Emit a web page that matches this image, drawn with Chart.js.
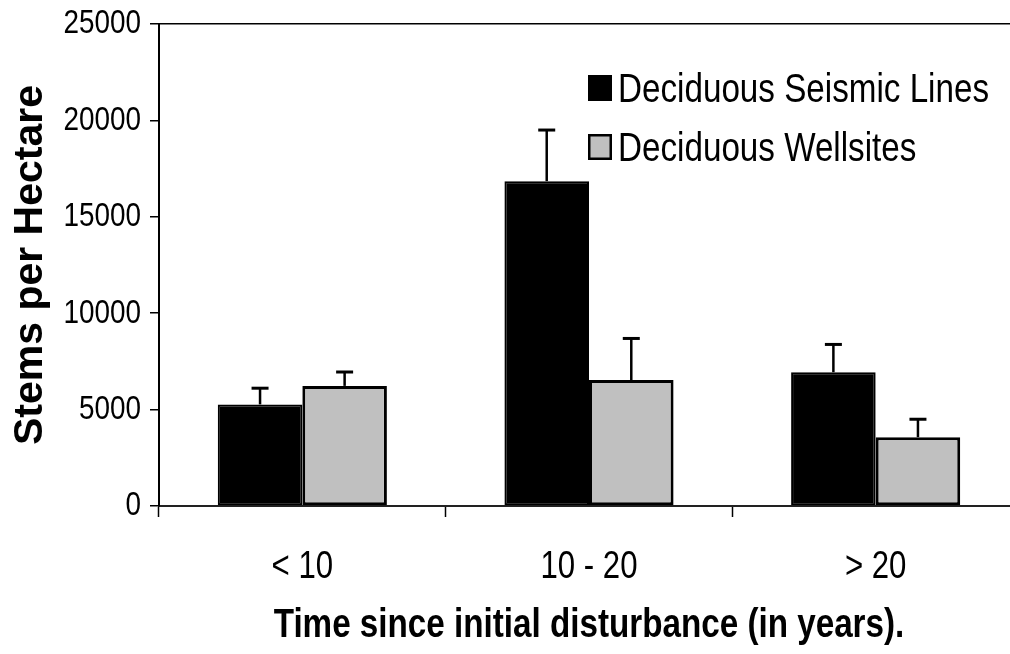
<!DOCTYPE html>
<html>
<head>
<meta charset="utf-8">
<script src="https://cdn.jsdelivr.net/npm/chart.js@4/dist/chart.umd.min.js"></script>
<style>
  html, body { margin: 0; padding: 0; background: #fff; overflow: hidden; }
  #wrap { position: relative; width: 1030px; height: 654px; }
</style>
</head>
<body>
<div id="wrap"><canvas id="chart"></canvas></div>
<script>
// Stem density by time since disturbance
const categories = ['< 10', '10 - 20', '> 20'];
const seriesNames = ['Deciduous Seismic Lines', 'Deciduous Wellsites'];
const seismicMean = [5270, 16850, 6940];
const seismicErr = [840, 2650, 1440];
const wellsiteMean = [6230, 6530, 3570];
const wellsiteErr = [720, 2160, 930];
const yTickStep = 5000;
const yMax = 25000;

const SANS = "'Liberation Sans', Arial, sans-serif";
// narrow lettering: regular face squeezed horizontally
const NARROW_X = 0.82;

function squeezeText(Base, id) {
  return class extends Base {
    static id = id;
    static defaults = Base.defaults;
    drawLabels(chartArea) {
      const sx = this.options.textScaleX || 1;
      const ctx = this.ctx;
      if (!this.options.ticks.display) return;
      for (const item of this.getLabelItems(chartArea)) {
        const o = item.options;
        const [tx, ty] = o.translation;
        ctx.save();
        ctx.translate(tx, ty);
        ctx.scale(sx, 1);
        Chart.helpers.renderText(ctx, item.label, 0, item.textOffset, item.font,
          Object.assign({}, o, { translation: undefined }));
        ctx.restore();
      }
    }
    drawTitle() {
      const sx = this.options.titleScaleX || 1;
      const ctx = this.ctx;
      ctx.save();
      if (this.isHorizontal()) {
        const cx = (this.left + this.right) / 2;
        ctx.translate(cx, 0); ctx.scale(sx, 1); ctx.translate(-cx, 0);
      }
      super.drawTitle();
      ctx.restore();
    }
  };
}
const NarrowCategory = squeezeText(Chart.CategoryScale, 'narrowCategory');
const NarrowLinear = squeezeText(Chart.LinearScale, 'narrowLinear');
Chart.register(NarrowCategory, NarrowLinear);

// upward-only error bars with a flat cap
const errorBars = {
  id: 'errorBars',
  afterDatasetsDraw(chart) {
    const { ctx } = chart;
    const y = chart.scales.y;
    chart.data.datasets.forEach((ds, di) => {
      const meta = chart.getDatasetMeta(di);
      meta.data.forEach((bar, i) => {
        const top = y.getPixelForValue(ds.data[i] + ds.errorPlus[i]);
        ctx.save();
        ctx.strokeStyle = '#000';
        ctx.lineWidth = 2.5;
        ctx.beginPath();
        ctx.moveTo(bar.x, bar.y);
        ctx.lineTo(bar.x, top);
        ctx.stroke();
        ctx.lineWidth = 3;
        ctx.beginPath();
        ctx.moveTo(bar.x - 8.5, top);
        ctx.lineTo(bar.x + 8.5, top);
        ctx.stroke();
        ctx.restore();
      });
    });
  }
};

// stacked legend inside the plot, upper right
const boxLegend = {
  id: 'boxLegend',
  afterDraw(chart, args, opts) {
    const { ctx } = chart;
    ctx.save();
    ctx.font = opts.font;
    ctx.textBaseline = 'alphabetic';
    ctx.textAlign = 'left';
    chart.data.datasets.forEach((ds, i) => {
      const rowY = opts.top + i * opts.rowGap;
      ctx.fillStyle = ds.backgroundColor;
      ctx.fillRect(opts.left, rowY, opts.box, opts.boxH);
      ctx.strokeStyle = '#000';
      ctx.lineWidth = 2.5;
      ctx.strokeRect(opts.left + 1.25, rowY + 1.25, opts.box - 2.5, opts.boxH - 2.5);
      ctx.save();
      ctx.translate(opts.left + opts.box + 6, rowY + opts.boxH + 1);
      ctx.scale(opts.scaleX, 1);
      ctx.fillStyle = '#000';
      ctx.fillText(ds.label, 0, 0);
      ctx.restore();
    });
    ctx.restore();
  }
};

new Chart(document.getElementById('chart'), {
  type: 'bar',
  data: {
    labels: categories,
    datasets: [
      {
        label: seriesNames[0],
        data: seismicMean,
        errorPlus: seismicErr,
        backgroundColor: '#000000',
        borderColor: '#000000',
        borderWidth: 2,
        borderSkipped: false
      },
      {
        label: seriesNames[1],
        data: wellsiteMean,
        errorPlus: wellsiteErr,
        backgroundColor: '#c0c0c0',
        borderColor: '#000000',
        borderWidth: 3,
        borderSkipped: false
      }
    ]
  },
  options: {
    responsive: true,
    maintainAspectRatio: false,
    animation: false,
    events: [],
    layout: { padding: { left: 0, right: 11, top: 24, bottom: 0 } },
    datasets: { bar: { categoryPercentage: 0.59, barPercentage: 1.0 } },
    plugins: {
      legend: { display: false },
      tooltip: { enabled: false },
      boxLegend: {
        left: 588, top: 75, rowGap: 59, box: 24, boxH: 26,
        scaleX: NARROW_X,
        font: '40.5px ' + SANS
      }
    },
    scales: {
      x: {
        type: 'narrowCategory',
        textScaleX: NARROW_X,
        titleScaleX: NARROW_X,
        afterFit(scale) { scale.height = 148; },
        grid: {
          offset: true,
          drawOnChartArea: false,
          tickLength: 11,
          tickColor: '#000',
          tickWidth: 1.5
        },
        border: { color: '#222', width: 2 },
        ticks: {
          color: '#000',
          padding: 28,
          font: { family: SANS, size: 38 }
        },
        title: {
          display: true,
          text: 'Time since initial disturbance (in years).',
          color: '#000',
          font: { family: SANS, size: 40.5, weight: 'bold' },
          padding: { top: 0, bottom: 4 }
        }
      },
      y: {
        type: 'narrowLinear',
        textScaleX: NARROW_X,
        min: 0,
        max: yMax,
        afterFit(scale) {
          scale.width = 159;
          scale.paddingTop = 0;
          scale.paddingBottom = 0;
        },
        grid: {
          color: (c) => (c.tick && c.tick.value === yMax ? '#000' : 'rgba(0,0,0,0)'),
          lineWidth: 1.5,
          tickLength: 9,
          tickColor: '#000',
          tickWidth: 1.5
        },
        border: { color: '#000', width: 2 },
        ticks: {
          color: '#000',
          padding: 9,
          stepSize: yTickStep,
          callback: (v) => String(v),
          font: { family: SANS, size: 34 }
        },
        title: {
          display: true,
          text: 'Stems per Hectare',
          color: '#000',
          font: { family: SANS, size: 41, weight: 'bold' },
          padding: { top: 6, bottom: 0 }
        }
      }
    }
  },
  plugins: [errorBars, boxLegend]
});
</script>
</body>
</html>
